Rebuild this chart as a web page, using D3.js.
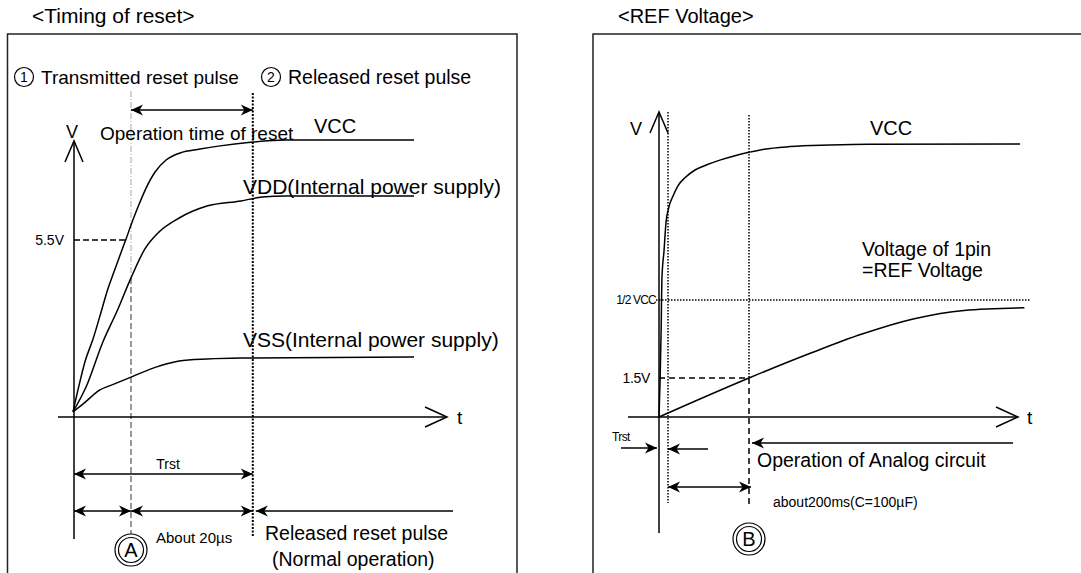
<!DOCTYPE html>
<html>
<head>
<meta charset="utf-8">
<script src="https://cdn.jsdelivr.net/npm/d3@7"></script>
<style>
  body { margin: 0; background: #fff; }
  svg { display: block; font-family: "Liberation Sans", Arial, sans-serif; }
</style>
</head>
<body>
<div id="chart"></div>
<script>
// ---- data ----
// left panel: [t, volts]; t in µs-ish units, 20 = point A
const leftVcc = [[0,0.16],[2.1,0.99],[4.1,1.71],[6.9,2.42],[9.3,3.14],[12.1,4.0],[14.1,4.5],[16.6,5.12],
  [18.3,5.53],[20,5.96],[22.4,6.52],[25.2,7.11],[28.3,7.61],[32.1,7.98],[36.9,8.2],[43.8,8.32],
  [50.7,8.42],[62.1,8.54],[73.4,8.6],[117.6,8.6]];
const leftVdd = [[0,0.16],[4.5,0.93],[10.3,2.33],[15.2,3.29],[20,4.32],[24.8,5.22],[29.7,5.75],
  [36.6,6.18],[46.2,6.55],[57.9,6.71],[65.2,6.83],[73.4,6.86],[117.6,6.86]];
const leftVss = [[0,0.16],[3.4,0.4],[9.3,0.84],[14.1,1.02],[20,1.24],[29.7,1.58],[36.6,1.74],
  [46.2,1.8],[57.9,1.83],[117.6,1.86]];
const leftTicks = [{ v: 5.5, label: '5.5V' }];
const leftMarks = { a: 20, release: 62 };   // point A, released reset pulse

// right panel: [t, volts]; 25 = point B
const rightVcc = [[0,0],[0.3,1.4],[0.6,3.4],[0.8,5.3],[1.4,6.4],[1.9,7.4],[2.8,8.1],[3.9,8.5],
  [5.3,8.9],[7.2,9.2],[10,9.5],[13.3,9.7],[16.9,9.88],[21.1,10.05],[25,10.18],[29.2,10.3],
  [36.4,10.4],[47.5,10.46],[58.1,10.49],[100.3,10.5]];
const rightRef = [[0,0],[25,1.5],[42.2,2.46],[56.4,3.19],[70.6,3.77],[84.7,4.1],[101.5,4.2]];
const rightTicks = [{ v: 4.5, label: '1/2 VCC' }, { v: 1.5, label: '1.5V' }];
const rightMarks = { trst: 2.5, b: 25 };

// ---- scales ----
const xL = d3.scaleLinear().domain([0, 130]).range([73, 450]);
const yL = d3.scaleLinear().domain([0, 9]).range([417, 127.2]);
const xR = d3.scaleLinear().domain([0, 100]).range([659, 1019]);
const yR = d3.scaleLinear().domain([0, 10]).range([417, 157]);

const svg = d3.select('#chart').append('svg')
    .attr('width', 1081)
    .attr('height', 573);

svg.append('rect').attr('width', 1081).attr('height', 573).attr('fill', '#fff');

// filled concave arrow head
svg.append('defs').append('marker')
    .attr('id', 'head')
    .attr('viewBox', '-13 -6 14 12')
    .attr('refX', 0).attr('refY', 0)
    .attr('markerWidth', 14).attr('markerHeight', 12)
    .attr('markerUnits', 'userSpaceOnUse')
    .attr('orient', 'auto-start-reverse')
    .append('path')
    .attr('d', 'M0,0 L-12,-5.5 L-8.5,0 L-12,5.5 Z')
    .attr('fill', '#000');

function seg(x1, y1, x2, y2, opts) {
    opts = opts || {};
    const l = svg.append('line')
        .attr('x1', x1).attr('y1', y1).attr('x2', x2).attr('y2', y2)
        .attr('stroke', opts.color || '#000')
        .attr('stroke-width', opts.w || 1.5);
    if (opts.dash) l.attr('stroke-dasharray', opts.dash);
    if (opts.start) l.attr('marker-start', 'url(#head)');
    if (opts.end) l.attr('marker-end', 'url(#head)');
    return l;
}

function label(x, y, txt, size, anchor, extra) {
    const t = svg.append('text')
        .attr('x', x).attr('y', y)
        .attr('font-size', size)
        .attr('text-anchor', anchor || 'start')
        .attr('fill', '#000')
        .text(txt);
    if (extra) t.attr('letter-spacing', extra);
    return t;
}

function circled(cx, cy, ch, r, dbl, size) {
    svg.append('circle').attr('cx', cx).attr('cy', cy).attr('r', r)
        .attr('fill', 'none').attr('stroke', '#000').attr('stroke-width', 1.2);
    if (dbl) svg.append('circle').attr('cx', cx).attr('cy', cy).attr('r', r - 3.5)
        .attr('fill', 'none').attr('stroke', '#000').attr('stroke-width', 1.2);
    svg.append('text').attr('x', cx).attr('y', cy + size * 0.36)
        .attr('text-anchor', 'middle').attr('font-size', size).text(ch);
}

function upArrow(x, y) {
    svg.append('path').attr('d', `M${x - 9},${y + 21} L${x},${y} L${x + 9},${y + 21}`)
        .attr('fill', 'none').attr('stroke', '#000').attr('stroke-width', 1.5);
}
function rightArrow(x, y) {
    svg.append('path').attr('d', `M${x - 22},${y - 10} L${x},${y} L${x - 22},${y + 10}`)
        .attr('fill', 'none').attr('stroke', '#000').attr('stroke-width', 1.5);
}

const lineL = d3.line().x(d => xL(d[0])).y(d => yL(d[1])).curve(d3.curveMonotoneX);
const lineR = d3.line().x(d => xR(d[0])).y(d => yR(d[1])).curve(d3.curveMonotoneX);

// ================= LEFT PANEL =================
label(32, 23, '<Timing of reset>', 21);
svg.append('path').attr('d', 'M7.5,600 V34 H517 V600')
    .attr('fill', 'none').attr('stroke', '#222').attr('stroke-width', 1.5);

circled(24, 77, '1', 9.5, false, 14);
label(41, 84, 'Transmitted reset pulse', 19);
circled(271, 77, '2', 9.5, false, 14);
label(288, 84, 'Released reset pulse', 19.5);

const xA = xL(leftMarks.a), xRel = xL(leftMarks.release);

// marker lines
seg(xA, 91, xA, 278, { color: '#aaa', w: 1, dash: '6,2,1,2' });
seg(xA, 278, xA, 534, { color: '#333', w: 1, dash: '6,3' });
seg(xRel, 93, xRel, 537, { w: 2, dash: '2,1.5' });

// operation time of reset
seg(xA, 110, xRel, 110, { start: true, end: true });
label(100, 140, 'Operation time of reset', 19);

// axes
const y0L = yL(0);
seg(xL(0) + 1, 141, xL(0) + 1, 539);
upArrow(xL(0) + 1, 141);
label(xL(0) - 1, 138, 'V', 18, 'middle');
seg(58, y0L, 447, y0L);
rightArrow(447, y0L);
label(457, y0L + 7, 't', 19);

// ticks
leftTicks.forEach(d => {
    seg(xL(0) + 1, yL(d.v), 126, yL(d.v), { dash: '6,3' });
    label(64, yL(d.v) + 5, d.label, 14, 'end');
});

// curves
[leftVcc, leftVdd, leftVss].forEach(s => {
    svg.append('path').datum(s).attr('d', lineL)
        .attr('fill', 'none').attr('stroke', '#000').attr('stroke-width', 1.5);
});
label(314, 133, 'VCC', 20);
label(243, 194, 'VDD(Internal power supply)', 21);
label(243, 347, 'VSS(Internal power supply)', 21);

// bottom annotations
label(168, 469, 'Trst', 14, 'middle');
seg(xL(0) + 1, 474, xRel, 474, { start: true, end: true });
seg(xL(0) + 1, 511, xA, 511, { start: true, end: true });
seg(xA, 511, xRel, 511, { start: true, end: true });
seg(453, 511, xRel + 3, 511, { end: true });
label(156, 543, 'About 20\u00b5s', 15);
circled(xA, 550, 'A', 16, true, 20);
label(265, 540, 'Released reset pulse', 19.5);
label(272, 566, '(Normal operation)', 19.5);

// ================= RIGHT PANEL =================
label(618, 23, '<REF Voltage>', 20);
svg.append('path').attr('d', 'M593,600 V34 H1090')
    .attr('fill', 'none').attr('stroke', '#222').attr('stroke-width', 1.5);

const xTr = xR(rightMarks.trst), xB = xR(rightMarks.b);
const y0R = yR(0);

// vertical markers
seg(xTr, 112, xTr, 503, { w: 1.5, dash: '1.5,1.5' });
seg(xB, 115, xB, yR(1.5), { w: 1.5, dash: '1.5,1.5' });
seg(xB, yR(1.5), xB, 508, { w: 1.5, dash: '6,4' });

// ticks
seg(xR(0) - 3, yR(4.5), 1031, yR(4.5), { w: 1.5, dash: '1.5,1.5' });
label(656, yR(4.5) + 4, rightTicks[0].label, 12, 'end', -0.8);
seg(xR(0), yR(1.5), xB, yR(1.5), { dash: '6,4' });
label(650, yR(1.5) + 5, rightTicks[1].label, 14, 'end', -0.3);

// axes
seg(xR(0), 112, xR(0), 533);
upArrow(xR(0), 112);
label(636, 135, 'V', 18, 'middle');
seg(628, y0R, 1018, y0R);
rightArrow(1018, y0R);
label(1027, y0R + 7, 't', 19);

// curves
[rightVcc, rightRef].forEach(s => {
    svg.append('path').datum(s).attr('d', lineR)
        .attr('fill', 'none').attr('stroke', '#000').attr('stroke-width', 1.5);
});
label(870, 135, 'VCC', 20);
label(862, 256, 'Voltage of 1pin', 19.5);
label(862, 277, '=REF Voltage', 19.5);

// bottom annotations
label(612, 441, 'Trst', 12, 'start', -0.6);
seg(621, 448, xR(0) - 2, 448, { end: true });
seg(708, 449, xTr, 449, { end: true });
seg(1013, 443, xB + 3, 443, { end: true });
label(757, 467, 'Operation of Analog circuit', 19.5);
seg(xTr, 487, xB + 2, 487, { start: true, end: true });
label(773, 507, 'about200ms(C=100\u00b5F)', 14);
circled(xB, 539, 'B', 16, true, 20);
</script>
</body>
</html>
